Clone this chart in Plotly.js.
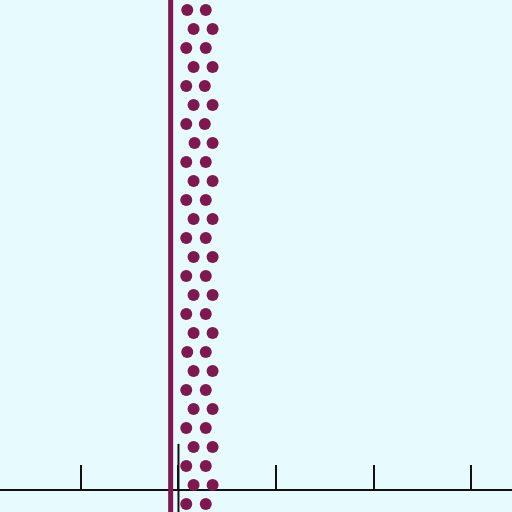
<!DOCTYPE html>
<html>
<head>
<meta charset="utf-8">
<script src="https://cdn.plot.ly/plotly-3.0.1.min.js"></script>
<style>html,body{margin:0;padding:0;background:#e7fafd;}#chart{width:512px;height:512px;}</style>
</head>
<body>
<div id="chart"></div>
<script>
// Dot strip: two dots per row, rows alternate between a left pair and a right-shifted pair
var rowY = [26,25,24,23,22,21,20,19,18,17,16,15,14,13,12,11,10,9,8,7,6,5,4,3,2,1,0];
var leftX  = [0.09,0.155,0.08,0.155,0.08,0.155,0.08,0.165,0.08,0.155,0.08,0.155,0.08,0.155,0.08,0.155,0.08,0.155,0.09,0.155,0.08,0.155,0.08,0.155,0.08,0.155,0.08];
var rightX = [0.28,0.35,0.28,0.35,0.27,0.35,0.27,0.35,0.28,0.35,0.28,0.35,0.28,0.35,0.28,0.35,0.28,0.35,0.28,0.35,0.28,0.35,0.28,0.35,0.28,0.35,0.28];
var refLineX = -0.08;
var tickVals = [-1, 0, 1, 2, 3];

var dotsX = [], dotsY = [];
for (var i = 0; i < rowY.length; i++) {
  dotsX.push(leftX[i]); dotsY.push(rowY[i]);
  dotsX.push(rightX[i]); dotsY.push(rowY[i]);
}
var maroon = '#7e184e';

var traces = [
  {x: [refLineX, refLineX], y: [-2, 28], mode: 'lines', line: {color: maroon, width: 5}, hoverinfo: 'skip'},
  {x: dotsX, y: dotsY, mode: 'markers', marker: {color: maroon, size: 12}, hoverinfo: 'skip'}
];

var layout = {
  width: 512, height: 512,
  margin: {l: 0, r: 0, t: 0, b: 0},
  paper_bgcolor: '#e7fafd', plot_bgcolor: '#e7fafd',
  showlegend: false,
  xaxis: {
    range: [-1.83, 3.42],
    showgrid: false, zeroline: false,
    showline: true, linecolor: '#111', linewidth: 2,
    ticks: 'inside', ticklen: 24, tickwidth: 2, tickcolor: '#111',
    tickvals: tickVals, showticklabels: false,
    anchor: 'free', position: 0.043,
    layer: 'below traces'
  },
  yaxis: {
    range: [-0.421, 26.526],
    showgrid: false, zeroline: false, showline: false,
    showticklabels: false, ticks: ''
  },
  shapes: [
    {type: 'line', xref: 'x', yref: 'paper', x0: 0, x1: 0, y0: 0, y1: 0.133, line: {color: '#111', width: 2}}
  ]
};
Plotly.newPlot('chart', traces, layout, {staticPlot: true});
</script>
</body>
</html>
